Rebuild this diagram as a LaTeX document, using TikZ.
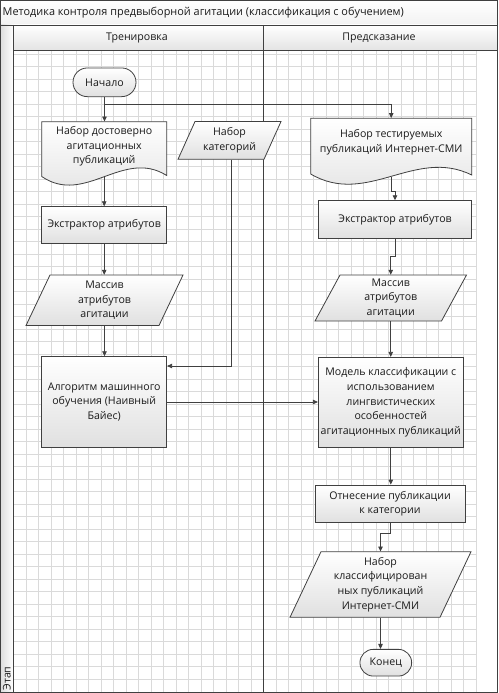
\documentclass[tikz,border=0pt]{standalone}
\usepackage{fontspec}
\setmainfont{Open Sans}
\usetikzlibrary{arrows.meta}
\definecolor{linec}{HTML}{404040}
\definecolor{gridc}{HTML}{DADADA}
\definecolor{shadec}{HTML}{E0E0E0}
\definecolor{txtc}{HTML}{1A1A1A}
\begin{document}
\begin{tikzpicture}[x=1pt,y=-1pt,
  font=\fontsize{10.6}{14.6}\selectfont, text=txtc,
  box/.style={draw=linec, line width=0.8pt, top color=white, bottom color=shadec, align=center, inner sep=1pt},
  shp/.style={draw=linec, line width=0.8pt, top color=white, bottom color=shadec},
  frame/.style={inner sep=0pt, align=center},
  conn/.style={draw=linec, line width=0.8pt, -{Triangle[length=5pt,width=4.5pt]}},
  gridline/.style={draw=gridc, line width=0.6pt},
  rim/.style={draw=linec, line width=0.9pt}]
\useasboundingbox (0,0) rectangle (498,693);
\fill[white] (0,0) rectangle (498,693);
% grid
\foreach \i in {0,...,37} \draw[gridline] ({13.3+12.5*\i},50.7) -- ({13.3+12.5*\i},692);
\foreach \j in {0,...,50} \draw[gridline] (13.3,{54.2+12.5*\j}) -- (475.8,{54.2+12.5*\j});
% frame: title bar, lane headers, left strip
\path[top color=white, bottom color=black!5] (0.5,0.5) rectangle (497,25);
\path[top color=white, bottom color=black!11] (13.3,25) rectangle (497,50.7);
\path[left color=black!13, right color=white] (0.5,25) rectangle (13.3,692.3);
\draw[rim] (0.5,0.5) rectangle (497,692.3);
\draw[rim] (0.5,25) -- (497,25);
\draw[rim] (13.3,25) -- (13.3,692.3);
\draw[rim] (13.3,50.7) -- (497,50.7);
\draw[rim] (263,25) -- (263,692.3);
\node[anchor=west, inner sep=0pt, font=\fontsize{10.9}{14.6}\selectfont] (title) at (2.5,13) {Методика контроля предвыборной агитации (классификация с обучением)};
\node (h1) at (137,38) {Тренировка};
\node (h2) at (379,38) {Предсказание};
\node[rotate=90, inner sep=0pt] (etap) at (6.9,678.5) {Этап};
% left lane
\node[box, rounded corners=14.3, minimum width=63, minimum height=28.7] (start) at (104.5,82.3) {Начало};
\path[shp] (41.7,121.7) -- (166.7,121.7) -- (166.7,175.5) .. controls (123,148) and (85,206) .. (41.7,176.5) -- cycle;
\node[frame, minimum width=125, minimum height=54] (doc1) at (104.2,148.7) {};
\node[frame] (doc1t) at (104.2,146.3) {Набор достоверно\\агитационных\\публикаций};
\path[shp] (195,121.5) -- (281,121.5) -- (264,159.3) -- (178,159.3) -- cycle;
\node[frame, minimum width=86, minimum height=37.8] (cat) at (229.5,140.4) {Набор\\категорий};
\node[box, minimum width=125, minimum height=36.6] (ext1) at (104.2,225) {Экстрактор атрибутов};
\path[shp] (50,275) -- (183,275) -- (159,325.5) -- (26,325.5) -- cycle;
\node[frame, minimum width=133, minimum height=50.5] (mas1) at (104.5,300.25) {Массив\\атрибутов\\агитации};
\node[box, minimum width=125, minimum height=90.6] (alg) at (104.2,402) {Алгоритм машинного\\обучения (Наивный\\Байес)};
% right lane
\path[shp] (310.7,118.3) -- (471.7,118.3) -- (471.7,175) .. controls (415,147) and (367,207) .. (310.7,174) -- cycle;
\node[frame, minimum width=161, minimum height=58] (doc2) at (391.2,147.3) {};
\node[frame] (doc2t) at (391.2,142.2) {Набор тестируемых\\публикаций Интернет-СМИ};
\node[box, minimum width=153.4, minimum height=37.6] (ext2) at (395,219.5) {Экстрактор атрибутов};
\path[shp] (340,275) -- (466.5,275) -- (441.5,321) -- (315,321) -- cycle;
\node[frame, minimum width=126.5, minimum height=46] (mas2) at (390.75,298) {Массив\\атрибутов\\агитации};
\node[box, minimum width=145, minimum height=90] (mod) at (390.8,402.3) {Модель классификации с\\использованием\\лингвистических\\особенностей\\агитационных публикаций};
\node[box, minimum width=150, minimum height=37.7] (rel) at (390,503.85) {Отнесение публикации\\к категории};
\path[shp] (321,551.7) -- (471,551.7) -- (440,617.3) -- (290,617.3) -- cycle;
\node[frame, minimum width=150, minimum height=65.6] (out) at (380.5,584.5) {Набор\\классифицирован\\ных публикаций\\Интернет-СМИ};
\node[box, rounded corners=13.3, minimum width=51.7, minimum height=26.7] (finish) at (385.8,662.7) {Конец};
% connectors
\draw[conn] (start.south) -- (start.south |- doc1.north);
\path (start.south) ++(0,7) coordinate (br);
\draw[conn] (br) -| (doc2.north);
\draw[conn] (doc1.south) -- (doc1.south |- ext1.north);
\draw[conn] (ext1.south) -- (ext1.south |- mas1.north);
\draw[conn] (mas1.south) -- (mas1.south |- alg.north);
\draw[conn] ([xshift=2.2pt]cat.south) |- ([yshift=36pt]alg.east);
\draw[conn] (alg.east) -- (alg.east -| mod.west);
\draw[conn] (doc2.south) -- ++(0,15) -| (ext2.north);
\draw[conn] (ext2.south) -- ++(0,18) -| (mas2.north);
\draw[conn] (mas2.south) -- (mas2.south |- mod.north);
\draw[conn] (mod.south) -- (mod.south |- rel.north);
\draw[conn] (rel.south) -- ++(0,10.6) -| (out.north);
\draw[conn] (out.south) -- (out.south |- finish.north);
\end{tikzpicture}
\end{document}
